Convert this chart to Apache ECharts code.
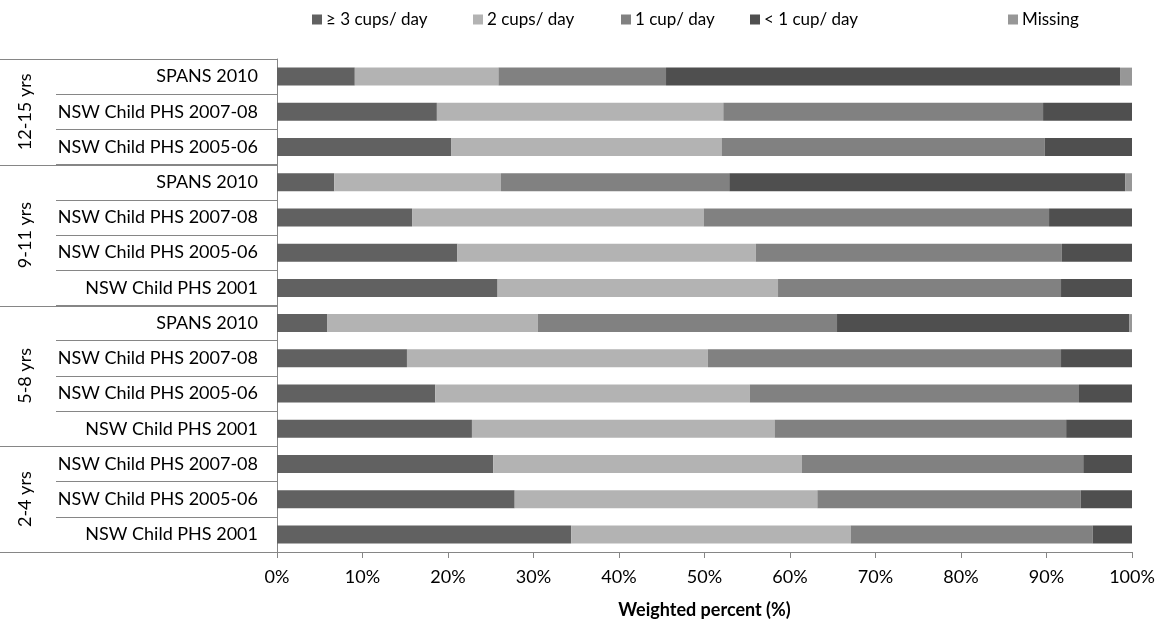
<!DOCTYPE html>
<html>
<head>
<meta charset="utf-8">
<script src="https://cdn.jsdelivr.net/npm/echarts@6/dist/echarts.min.js"></script>
<style>
html,body{margin:0;padding:0;background:#fff;}
#chart{width:1163px;height:622px;}
</style>
</head>
<body>
<div id="chart"></div>
<script>
// ---- data ----
const categories = [
  'SPANS 2010','NSW Child PHS 2007-08','NSW Child PHS 2005-06',
  'SPANS 2010','NSW Child PHS 2007-08','NSW Child PHS 2005-06','NSW Child PHS 2001',
  'SPANS 2010','NSW Child PHS 2007-08','NSW Child PHS 2005-06','NSW Child PHS 2001',
  'NSW Child PHS 2007-08','NSW Child PHS 2005-06','NSW Child PHS 2001'
];
const ageGroups = ['12-15 yrs','9-11 yrs','5-8 yrs','2-4 yrs'];
const groupSizes = [3,4,4,3];
const seriesNames = ['≥ 3 cups/ day','2 cups/ day','1 cup/ day','< 1 cup/ day','Missing'];
const cups3 = [9.1,18.7,20.4,6.7,15.8,21.1,25.8,5.9,15.2,18.5,22.8,25.3,27.8,34.4];
const cups2 = [16.8,33.5,31.6,19.5,34.1,34.9,32.8,24.6,35.2,36.8,35.4,36.1,35.4,32.7];
const cups1 = [19.6,37.4,37.8,26.7,40.4,35.8,33.1,35.0,41.3,38.5,34.1,32.9,30.8,28.3];
const cupsLt1 = [53.1,10.4,10.2,46.3,9.7,8.2,8.3,34.2,8.3,6.2,7.7,5.7,6.0,4.6];
const missing = [1.4,0,0,0.8,0,0,0,0.3,0,0,0,0,0,0];
const xTicks = {min:0, max:100, interval:10};

// ---- styles ----
const colors = ['#616161','#b3b3b3','#818181','#4f4f4f','#979797'];
const FONT = 'Lato';
const axisGray = '#868686';
const legendLefts = [312, 473, 621, 750, 1008];

const values = [cups3, cups2, cups1, cupsLt1, missing];
const chart = echarts.init(document.getElementById('chart'), null, {renderer:'canvas'});

const series = seriesNames.map((n,i)=>({
  name:n, type:'bar', stack:'total', data:values[i], barWidth:18,
  itemStyle:{color:colors[i]}, emphasis:{disabled:true}, animation:false
}));

const legends = seriesNames.map((n,i)=>({
  data:[n], left:legendLefts[i], top:11, padding:0, itemWidth:10, itemHeight:10, itemGap:3,
  icon:'rect', selectedMode:false,
  textStyle:{fontFamily:FONT, fontSize:17, color:'#000', padding:[0,0,0,-1]}
}));

chart.setOption({
  animation:false,
  textStyle:{fontFamily:FONT},
  legend:legends,
  grid:{left:277, right:31, top:59, bottom:70, containLabel:false, outerBoundsMode:'none'},
  xAxis:{
    type:'value', min:xTicks.min, max:xTicks.max, interval:xTicks.interval,
    axisLine:{show:true, lineStyle:{color:axisGray}},
    axisTick:{show:true, length:6, lineStyle:{color:axisGray}},
    splitLine:{show:false},
    axisLabel:{formatter:'{value}%', fontFamily:FONT, fontSize:18, color:'#000', margin:16},
    name:'Weighted percent (%)', nameLocation:'middle', nameGap:49,
    nameTextStyle:{fontFamily:FONT, fontSize:18, fontWeight:'bold', color:'#000'}
  },
  yAxis:{
    type:'category', inverse:true, data:categories,
    axisLine:{show:true, lineStyle:{color:axisGray}},
    axisTick:{show:true, length:221, lineStyle:{color:axisGray}},
    axisLabel:{fontFamily:FONT, fontSize:18, color:'#000', margin:19}
  },
  series:series
});

// group separators and labels from the axis scale
function drawGroups(){
  const p0 = chart.convertToPixel({yAxisIndex:0}, 0);
  const p1 = chart.convertToPixel({yAxisIndex:0}, 1);
  const band = p1 - p0;
  const xAxisPx = chart.convertToPixel({xAxisIndex:0}, 0);
  const els = [];
  let start = 0;
  const bnd = (i)=> Math.round(chart.convertToPixel({yAxisIndex:0}, i) - band/2) + 0.5;
  els.push({type:'line', shape:{x1:0,y1:bnd(0),x2:xAxisPx,y2:bnd(0)}, style:{stroke:axisGray,lineWidth:1}, silent:true});
  groupSizes.forEach((sz,g)=>{
    const end = start + sz;
    const yEnd = Math.round(chart.convertToPixel({yAxisIndex:0}, end-1) + band/2) + 0.5;
    els.push({type:'line', shape:{x1:0,y1:yEnd,x2:xAxisPx,y2:yEnd}, style:{stroke:axisGray,lineWidth:1}, silent:true});
    const yMid = (chart.convertToPixel({yAxisIndex:0}, start) + chart.convertToPixel({yAxisIndex:0}, end-1))/2;
    els.push({type:'text', x:25, y:yMid, rotation:Math.PI/2, silent:true,
      style:{text:ageGroups[g], fontFamily:FONT, fontSize:18, fill:'#000', align:'center', verticalAlign:'middle'}});
    start = end;
  });
  chart.setOption({graphic:els});
}
drawGroups();
</script>
</body>
</html>
